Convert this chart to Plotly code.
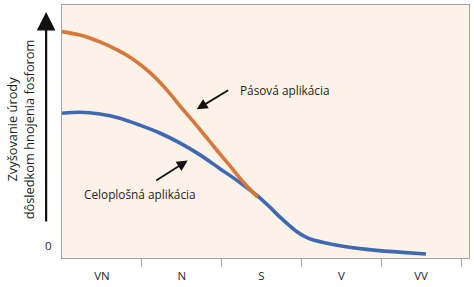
import plotly.graph_objects as go

# Category labels (soil phosphorus test levels)
categories = ["VN", "N", "S", "V", "VV"]
category_pos = [0.5, 1.5, 2.5, 3.5, 4.5]
boundary_pos = [1, 2, 3, 4, 5]

# Banded (Pásová) application curve
band_x = [0, 0.225, 0.475, 0.69, 0.89, 1.1, 1.31, 1.51, 1.725, 1.91, 2.1, 2.29, 2.45]
band_y = [218, 214.5, 207.5, 199.5, 190, 176.5, 159, 139.5, 119, 100.5, 82, 63.5, 50]

# Broadcast (Celoplošná) application curve
broad_x = [0, 0.225, 0.475, 0.725, 0.975, 1.225, 1.475, 1.725, 1.975, 2.225, 2.45, 2.6,
           2.725, 2.85, 2.94, 3.04, 3.14, 3.35, 3.56, 3.79, 3.975, 4.225, 4.56]
broad_y = [135, 136, 134.3, 130, 123, 115, 105, 93, 79, 65, 51, 40,
           30, 21, 15, 10, 6.5, 2.5, -0.5, -3, -4.5, -6, -8]

ORANGE = "#D8773A"
BLUE = "#4069B3"
GRAY = "#A3A3A3"
TXT = "#231f20"
FONT = "Open Sans"

fig = go.Figure()
fig.add_trace(go.Scatter(x=broad_x, y=broad_y, mode="lines",
                         line=dict(color=BLUE, width=3.6, shape="spline", smoothing=0.8),
                         hoverinfo="skip", showlegend=False))
fig.add_trace(go.Scatter(x=band_x, y=band_y, mode="lines",
                         line=dict(color=ORANGE, width=3.6, shape="spline", smoothing=0.8),
                         hoverinfo="skip", showlegend=False))

fig.update_layout(
    width=474, height=287,
    margin=dict(l=62, r=4, t=5, b=25),
    paper_bgcolor="white",
    plot_bgcolor="#FCF2E7",
    font=dict(family=FONT, size=11.5, color=TXT),
    showlegend=False,
)

fig.update_xaxes(
    range=[0, 5.1], showgrid=False, zeroline=False,
    showline=True, linecolor=GRAY, linewidth=1, mirror=True,
    tickmode="array", tickvals=category_pos, ticktext=categories,
    ticks="", ticklabelstandoff=7,
    minor=dict(tickmode="array", tickvals=boundary_pos, ticks="outside",
               ticklen=8, tickcolor=GRAY, tickwidth=1, showgrid=False),
)
fig.update_yaxes(
    range=[-12, 245], showgrid=False, zeroline=False,
    showline=True, linecolor=GRAY, linewidth=1, mirror=True,
    tickmode="array", tickvals=[0], ticktext=["0"],
    ticks="outside", ticklen=7, tickcolor="rgba(0,0,0,0)",
)

# Vertical arrow on the left
fig.add_annotation(xref="paper", yref="y", x=-0.039, y=238, ax=0, ay=211,
                   axref="pixel", ayref="pixel", text="", showarrow=True,
                   arrowhead=2, arrowsize=1.7, arrowwidth=2.2, arrowcolor="#111")

# Axis title (two lines, rotated)
fig.add_annotation(xref="paper", yref="paper", x=-0.1, y=0.51,
                   text="Zvyšovanie úrody<br>dôsledkom hnojenia fosforom",
                   textangle=-90, showarrow=False, font=dict(size=12.8, color=TXT),
                   xanchor="center", yanchor="middle")

# Labels with arrows
fig.add_annotation(x=1.6875, y=139, ax=33, ay=-20, text="", showarrow=True,
                   arrowhead=2, arrowsize=1.2, arrowwidth=1.8, arrowcolor="#111")
fig.add_annotation(x=2.21, y=159, text="Pásová aplikácia", showarrow=False,
                   xanchor="left", yanchor="middle", font=dict(size=11.8, color=TXT))
fig.add_annotation(x=1.575, y=87, ax=-33, ay=21, text="", showarrow=True,
                   arrowhead=2, arrowsize=1.2, arrowwidth=1.8, arrowcolor="#111")
fig.add_annotation(x=0.975, y=53, text="Celoplošná aplikácia", showarrow=False,
                   xanchor="center", yanchor="middle", font=dict(size=11.8, color=TXT))

fig.write_html("out.html")
